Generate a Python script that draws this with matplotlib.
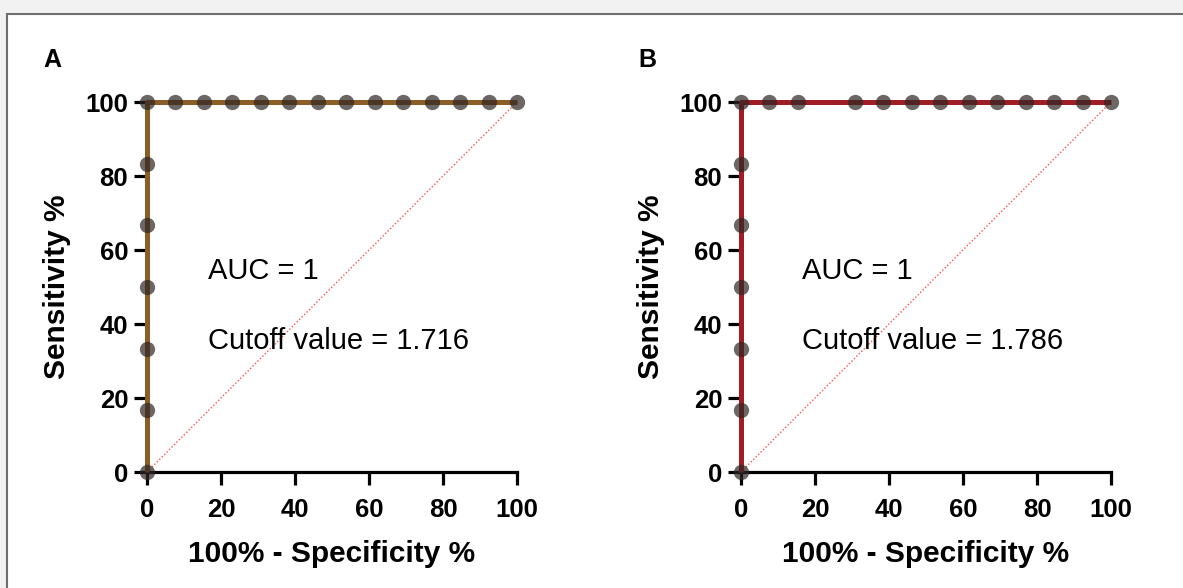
import matplotlib
matplotlib.use("Agg")
import matplotlib.pyplot as plt
from matplotlib.patches import Rectangle

# ---- data ----
fpr_a = [0, 0, 0, 0, 0, 0, 0, 7.69, 15.38, 23.08, 30.77, 38.46, 46.15, 53.85, 61.54, 69.23, 76.92, 84.62, 92.31, 100]
sens_a = [0, 16.67, 33.33, 50, 66.67, 83.33, 100, 100, 100, 100, 100, 100, 100, 100, 100, 100, 100, 100, 100, 100]
fpr_b = [0, 0, 0, 0, 0, 0, 0, 7.69, 15.38, 30.77, 38.46, 46.15, 53.85, 61.54, 69.23, 76.92, 84.62, 92.31, 100]
sens_b = [0, 16.67, 33.33, 50, 66.67, 83.33, 100, 100, 100, 100, 100, 100, 100, 100, 100, 100, 100, 100, 100]
panel_labels = ["A", "B"]
cutoffs = ["1.716", "1.786"]
auc_values = ["1", "1"]
ticks = [0, 20, 40, 60, 80, 100]

plt.rcParams['font.family'] = ['Liberation Sans', 'DejaVu Sans']

W, H = 1183, 588
fig = plt.figure(figsize=(W / 100, H / 100), dpi=100)
fig.patch.set_facecolor('#f2f2f2')
bg = Rectangle((7 / W, -0.05), 1.1, 1 - 14 / H + 0.05, transform=fig.transFigure,
               facecolor='white', edgecolor='#6e6e6e', linewidth=1.5, zorder=-10)
fig.add_artist(bg)

line_colors = ['#8c5d24', '#a11d25']
lefts = [147 / W, 741 / W]
bottom = 1 - 472 / H
width = 370 / W
height = 370 / H

datasets = [(fpr_a, sens_a), (fpr_b, sens_b)]
for i in range(2):
    ax = fig.add_axes([lefts[i], bottom, width, height])
    ax.set_zorder(1)
    ax.set_facecolor('none')
    x, y = datasets[i]
    ax.plot([0, 100], [0, 100], linestyle=(0, (1, 1.5)), color='#ff3030', linewidth=1.0,
            alpha=0.85, clip_on=False, zorder=2)
    ax.plot(x, y, color=line_colors[i], linewidth=3.6, clip_on=False, zorder=3,
            solid_capstyle='butt')
    ax.plot(x, y, linestyle='none', marker='o', markersize=11, color='#2e2624',
            alpha=0.7, markeredgewidth=0, clip_on=False, zorder=4)
    ax.set_xlim(0, 100)
    ax.set_ylim(0, 100)
    ax.set_xticks(ticks)
    ax.set_yticks(ticks)
    for s in ['top', 'right']:
        ax.spines[s].set_visible(False)
    for s in ['left', 'bottom']:
        ax.spines[s].set_linewidth(2.3)
        ax.spines[s].set_color('black')
        ax.spines[s].set_zorder(1)
    ax.tick_params(direction='out', length=9.5, width=2.3, labelsize=18.5)
    ax.tick_params(axis='x', pad=9)
    ax.tick_params(axis='y', pad=4)
    for lab in ax.get_xticklabels() + ax.get_yticklabels():
        lab.set_fontweight('bold')
    ax.set_xlabel('100% - Specificity %', fontsize=21.5, fontweight='bold', labelpad=13)
    ax.set_ylabel('Sensitivity %', fontsize=21.5, fontweight='bold', labelpad=10)
    ax.text(16.5, 54.3, 'AUC = ' + auc_values[i], fontsize=21, va='center', ha='left')
    ax.text(16.5, 35.4, 'Cutoff value = ' + cutoffs[i], fontsize=21, va='center', ha='left')
    fig.text((52 if i == 0 else 647) / W, 1 - 60 / H, panel_labels[i], fontsize=18,
             fontweight='bold', ha='center', va='center', zorder=5)

fig.savefig('out.png', dpi=100, facecolor=fig.get_facecolor())
